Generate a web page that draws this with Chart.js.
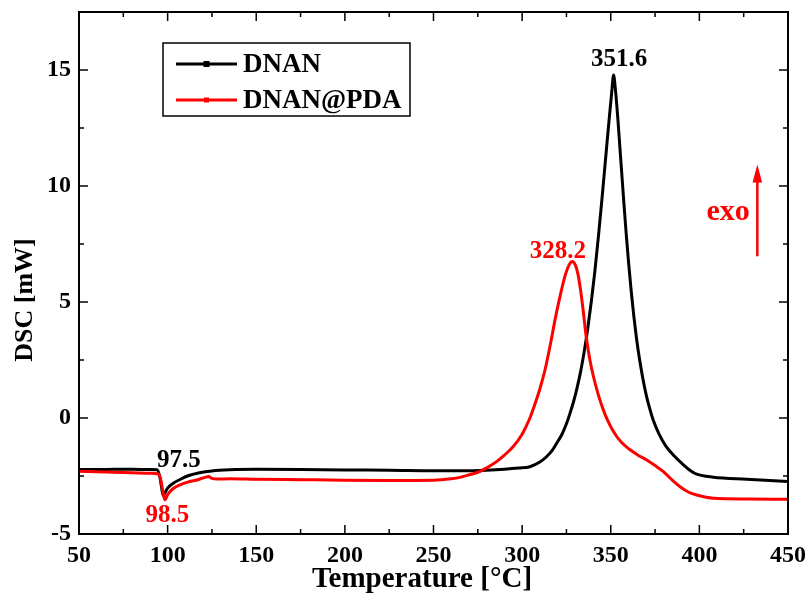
<!DOCTYPE html>
<html>
<head>
<meta charset="utf-8">
<script src="https://cdn.jsdelivr.net/npm/chart.js@4.4.1/dist/chart.umd.min.js"></script>
<style>
  html, body { margin: 0; padding: 0; background: #ffffff; }
  #wrap { width: 807px; height: 604px; }
</style>
</head>
<body>
<div id="wrap"><canvas id="c" width="807" height="604"></canvas></div>
<script>
// ---------- data ----------
const seriesNames = ['DNAN', 'DNAN@PDA'];
const xTitle = 'Temperature [°C]';
const yTitle = 'DSC [mW]';

const dnanTemp = [50, 60, 70, 80, 90, 94, 95.5, 96.5, 97.5, 98.5, 100, 103, 107, 112, 118, 125, 135, 150, 175, 200, 225, 250, 270, 280, 290, 298, 304.4, 310, 313.9, 317, 319.5, 322.5, 325, 327, 329, 331, 333, 335, 337, 339, 341, 343, 345, 347, 349, 350.5, 351.6, 352.7, 354, 355.5, 357, 358.5, 360, 361.5, 363, 364.5, 366, 368, 370, 372, 374, 377, 381, 386, 391, 395, 398.5, 407.9, 426.7, 450];
const dnanDSC  = [-2.22, -2.22, -2.21, -2.21, -2.22, -2.23, -2.5, -2.95, -3.35, -3.22, -3.02, -2.82, -2.65, -2.48, -2.36, -2.28, -2.23, -2.21, -2.22, -2.24, -2.25, -2.27, -2.27, -2.25, -2.21, -2.16, -2.10, -1.9, -1.66, -1.4, -1.09, -0.7, -0.25, 0.2, 0.7, 1.3, 2.0, 2.85, 3.85, 5.0, 6.3, 7.8, 9.4, 11.1, 12.8, 14.0, 14.78, 14.1, 12.9, 11.3, 9.7, 8.15, 6.75, 5.5, 4.4, 3.45, 2.65, 1.75, 1.0, 0.4, -0.1, -0.65, -1.2, -1.65, -2.02, -2.27, -2.42, -2.55, -2.64, -2.74];

const pdaTemp = [50, 60, 70, 80, 90, 95, 96.5, 97.5, 98.5, 100, 103, 107, 112, 117, 121, 123, 125, 128, 135, 150, 175, 200, 225, 250, 260, 265, 270, 276, 280, 285.6, 290, 295, 300, 302, 304.4, 307, 310, 313, 316, 319, 322, 324.5, 326.5, 328.2, 330, 331.5, 333, 334.5, 336, 338, 340.2, 343, 345.8, 348.5, 351.5, 356, 360.9, 365, 370.3, 375, 379.7, 385, 389.1, 394, 398.5, 407.9, 426.7, 450];
const pdaDSC  = [-2.30, -2.32, -2.34, -2.36, -2.38, -2.42, -2.8, -3.25, -3.52, -3.3, -3.05, -2.88, -2.75, -2.66, -2.56, -2.52, -2.6, -2.63, -2.62, -2.64, -2.66, -2.68, -2.69, -2.68, -2.62, -2.56, -2.45, -2.31, -2.15, -1.88, -1.6, -1.23, -0.7, -0.4, 0.0, 0.55, 1.25, 2.1, 3.2, 4.4, 5.45, 6.2, 6.6, 6.75, 6.6, 6.2, 5.5, 4.6, 3.6, 2.6, 1.8, 1.0, 0.35, -0.15, -0.58, -1.05, -1.37, -1.58, -1.81, -2.05, -2.31, -2.7, -2.96, -3.2, -3.32, -3.46, -3.49, -3.50];

const xTicks = [50, 100, 150, 200, 250, 300, 350, 400, 450];
const yTicks = [-5, 0, 5, 10, 15];
const xMinor = [75, 125, 175, 225, 275, 325, 375, 425];
const yMinor = [-2.5, 2.5, 7.5, 12.5];

const peakLabels = ['351.6', '328.2', '97.5', '98.5'];
// ---------- presentation ----------
const SERIF = "'Liberation Serif', 'Times New Roman', serif";
const colors = ['#000000', '#ff0000'];

const annotations = [
  { text: peakLabels[0], x: 354.7, y: 15.16, color: colors[0] },
  { text: peakLabels[1], x: 320.2, y: 6.91, color: colors[1] },
  { text: peakLabels[2], x: 106.4, y: -2.11, color: colors[0] },
  { text: peakLabels[3], x: 99.9, y: -4.47, color: colors[1] }
];

function pts(xs, ys) { return xs.map((x, i) => ({ x: x, y: ys[i] })); }

const framePlugin = {
  id: 'frame',
  afterDraw(chart) {
    const { ctx, chartArea: a, scales } = chart;
    const sx = scales.x, sy = scales.y;
    ctx.save();
    ctx.strokeStyle = '#000';
    ctx.lineWidth = 2;
    ctx.strokeRect(a.left, a.top, a.right - a.left, a.bottom - a.top);
    ctx.lineWidth = 1.5;
    const tick = (x1, y1, x2, y2) => { ctx.beginPath(); ctx.moveTo(x1, y1); ctx.lineTo(x2, y2); ctx.stroke(); };
    xTicks.forEach(v => { const p = sx.getPixelForValue(v); tick(p, a.bottom, p, a.bottom - 9); tick(p, a.top, p, a.top + 9); });
    xMinor.forEach(v => { const p = sx.getPixelForValue(v); tick(p, a.bottom, p, a.bottom - 5); tick(p, a.top, p, a.top + 5); });
    yTicks.forEach(v => { const p = sy.getPixelForValue(v); tick(a.left, p, a.left + 9, p); tick(a.right, p, a.right - 9, p); });
    yMinor.forEach(v => { const p = sy.getPixelForValue(v); tick(a.left, p, a.left + 5, p); tick(a.right, p, a.right - 5, p); });

    // axis titles
    ctx.fillStyle = '#000';
    ctx.textAlign = 'center';
    ctx.textBaseline = 'middle';
    ctx.font = 'bold 29px ' + SERIF;
    ctx.fillText(xTitle, a.left + 343, 580);
    ctx.save();
    ctx.translate(25, a.top + 288);
    ctx.rotate(-Math.PI / 2);
    ctx.font = 'bold 26px ' + SERIF;
    ctx.fillText(yTitle, 0, 0);
    ctx.restore();

    // peak labels
    ctx.font = 'bold 25px ' + SERIF;
    ctx.textAlign = 'center';
    ctx.textBaseline = 'alphabetic';
    annotations.forEach(an => {
      ctx.fillStyle = an.color;
      ctx.fillText(an.text, sx.getPixelForValue(an.x), sy.getPixelForValue(an.y));
    });

    // exo arrow
    ctx.fillStyle = colors[1];
    ctx.strokeStyle = colors[1];
    ctx.font = 'bold 30px ' + SERIF;
    ctx.fillText('exo', sx.getPixelForValue(416.2), sy.getPixelForValue(8.55));
    const ax = sx.getPixelForValue(432.7);
    const ay0 = sy.getPixelForValue(6.97), ay1 = sy.getPixelForValue(10.93);
    ctx.lineWidth = 2.5;
    tick(ax, ay0, ax, ay1 + 14);
    ctx.beginPath();
    ctx.moveTo(ax, ay1);
    ctx.lineTo(ax - 4.8, ay1 + 18);
    ctx.lineTo(ax + 4.8, ay1 + 18);
    ctx.closePath();
    ctx.fill();

    // legend box
    const lx = a.left + 84, ly = a.top + 31, lw = 247, lh = 73;
    ctx.lineWidth = 1.5;
    ctx.strokeStyle = '#000';
    ctx.strokeRect(lx, ly, lw, lh);
    const rows = [ly + 21, ly + 57];
    ctx.font = 'bold 27px ' + SERIF;
    ctx.textAlign = 'left';
    ctx.textBaseline = 'middle';
    seriesNames.forEach((name, i) => {
      const y = rows[i];
      ctx.strokeStyle = colors[i];
      ctx.fillStyle = colors[i];
      ctx.lineWidth = 3;
      tick(lx + 13, y, lx + 74, y);
      const s = i === 0 ? 6 : 5;
      ctx.fillRect(lx + 43.5 - s / 2, y - s / 2, s, s);
      ctx.fillStyle = '#000';
      ctx.fillText(name, lx + 80, y + 1);
    });
    ctx.restore();
  }
};

new Chart(document.getElementById('c'), {
  type: 'line',
  data: {
    datasets: [
      { label: seriesNames[0], data: pts(dnanTemp, dnanDSC), borderColor: colors[0], backgroundColor: colors[0], borderWidth: 3, pointRadius: 0, cubicInterpolationMode: 'monotone', order: 1 },
      { label: seriesNames[1], data: pts(pdaTemp, pdaDSC), borderColor: colors[1], backgroundColor: colors[1], borderWidth: 3, pointRadius: 0, cubicInterpolationMode: 'monotone', order: 0 }
    ]
  },
  options: {
    responsive: false,
    devicePixelRatio: 1,
    animation: false,
    layout: { padding: { left: 0, right: 19, top: 12, bottom: 0 } },
    plugins: { legend: { display: false }, tooltip: { enabled: false } },
    scales: {
      x: {
        type: 'linear', min: 50, max: 450,
        afterBuildTicks: s => { s.ticks = xTicks.map(v => ({ value: v })); },
        afterFit: s => { s.height = 70; s.paddingLeft = 0; s.paddingRight = 0; },
        ticks: { color: '#000', font: { family: SERIF, size: 24, weight: 'bold' }, padding: 7, maxRotation: 0 },
        grid: { display: false, drawTicks: false },
        border: { display: false },
        title: { display: false }
      },
      y: {
        type: 'linear', min: -5, max: 17.5,
        afterBuildTicks: s => { s.ticks = yTicks.map(v => ({ value: v })); },
        afterFit: s => { s.width = 79; s.paddingTop = 0; s.paddingBottom = 0; },
        ticks: { color: '#000', font: { family: SERIF, size: 24, weight: 'bold' }, padding: 8 },
        grid: { display: false, drawTicks: false },
        border: { display: false },
        title: { display: false }
      }
    }
  },
  plugins: [framePlugin]
});
</script>
</body>
</html>
